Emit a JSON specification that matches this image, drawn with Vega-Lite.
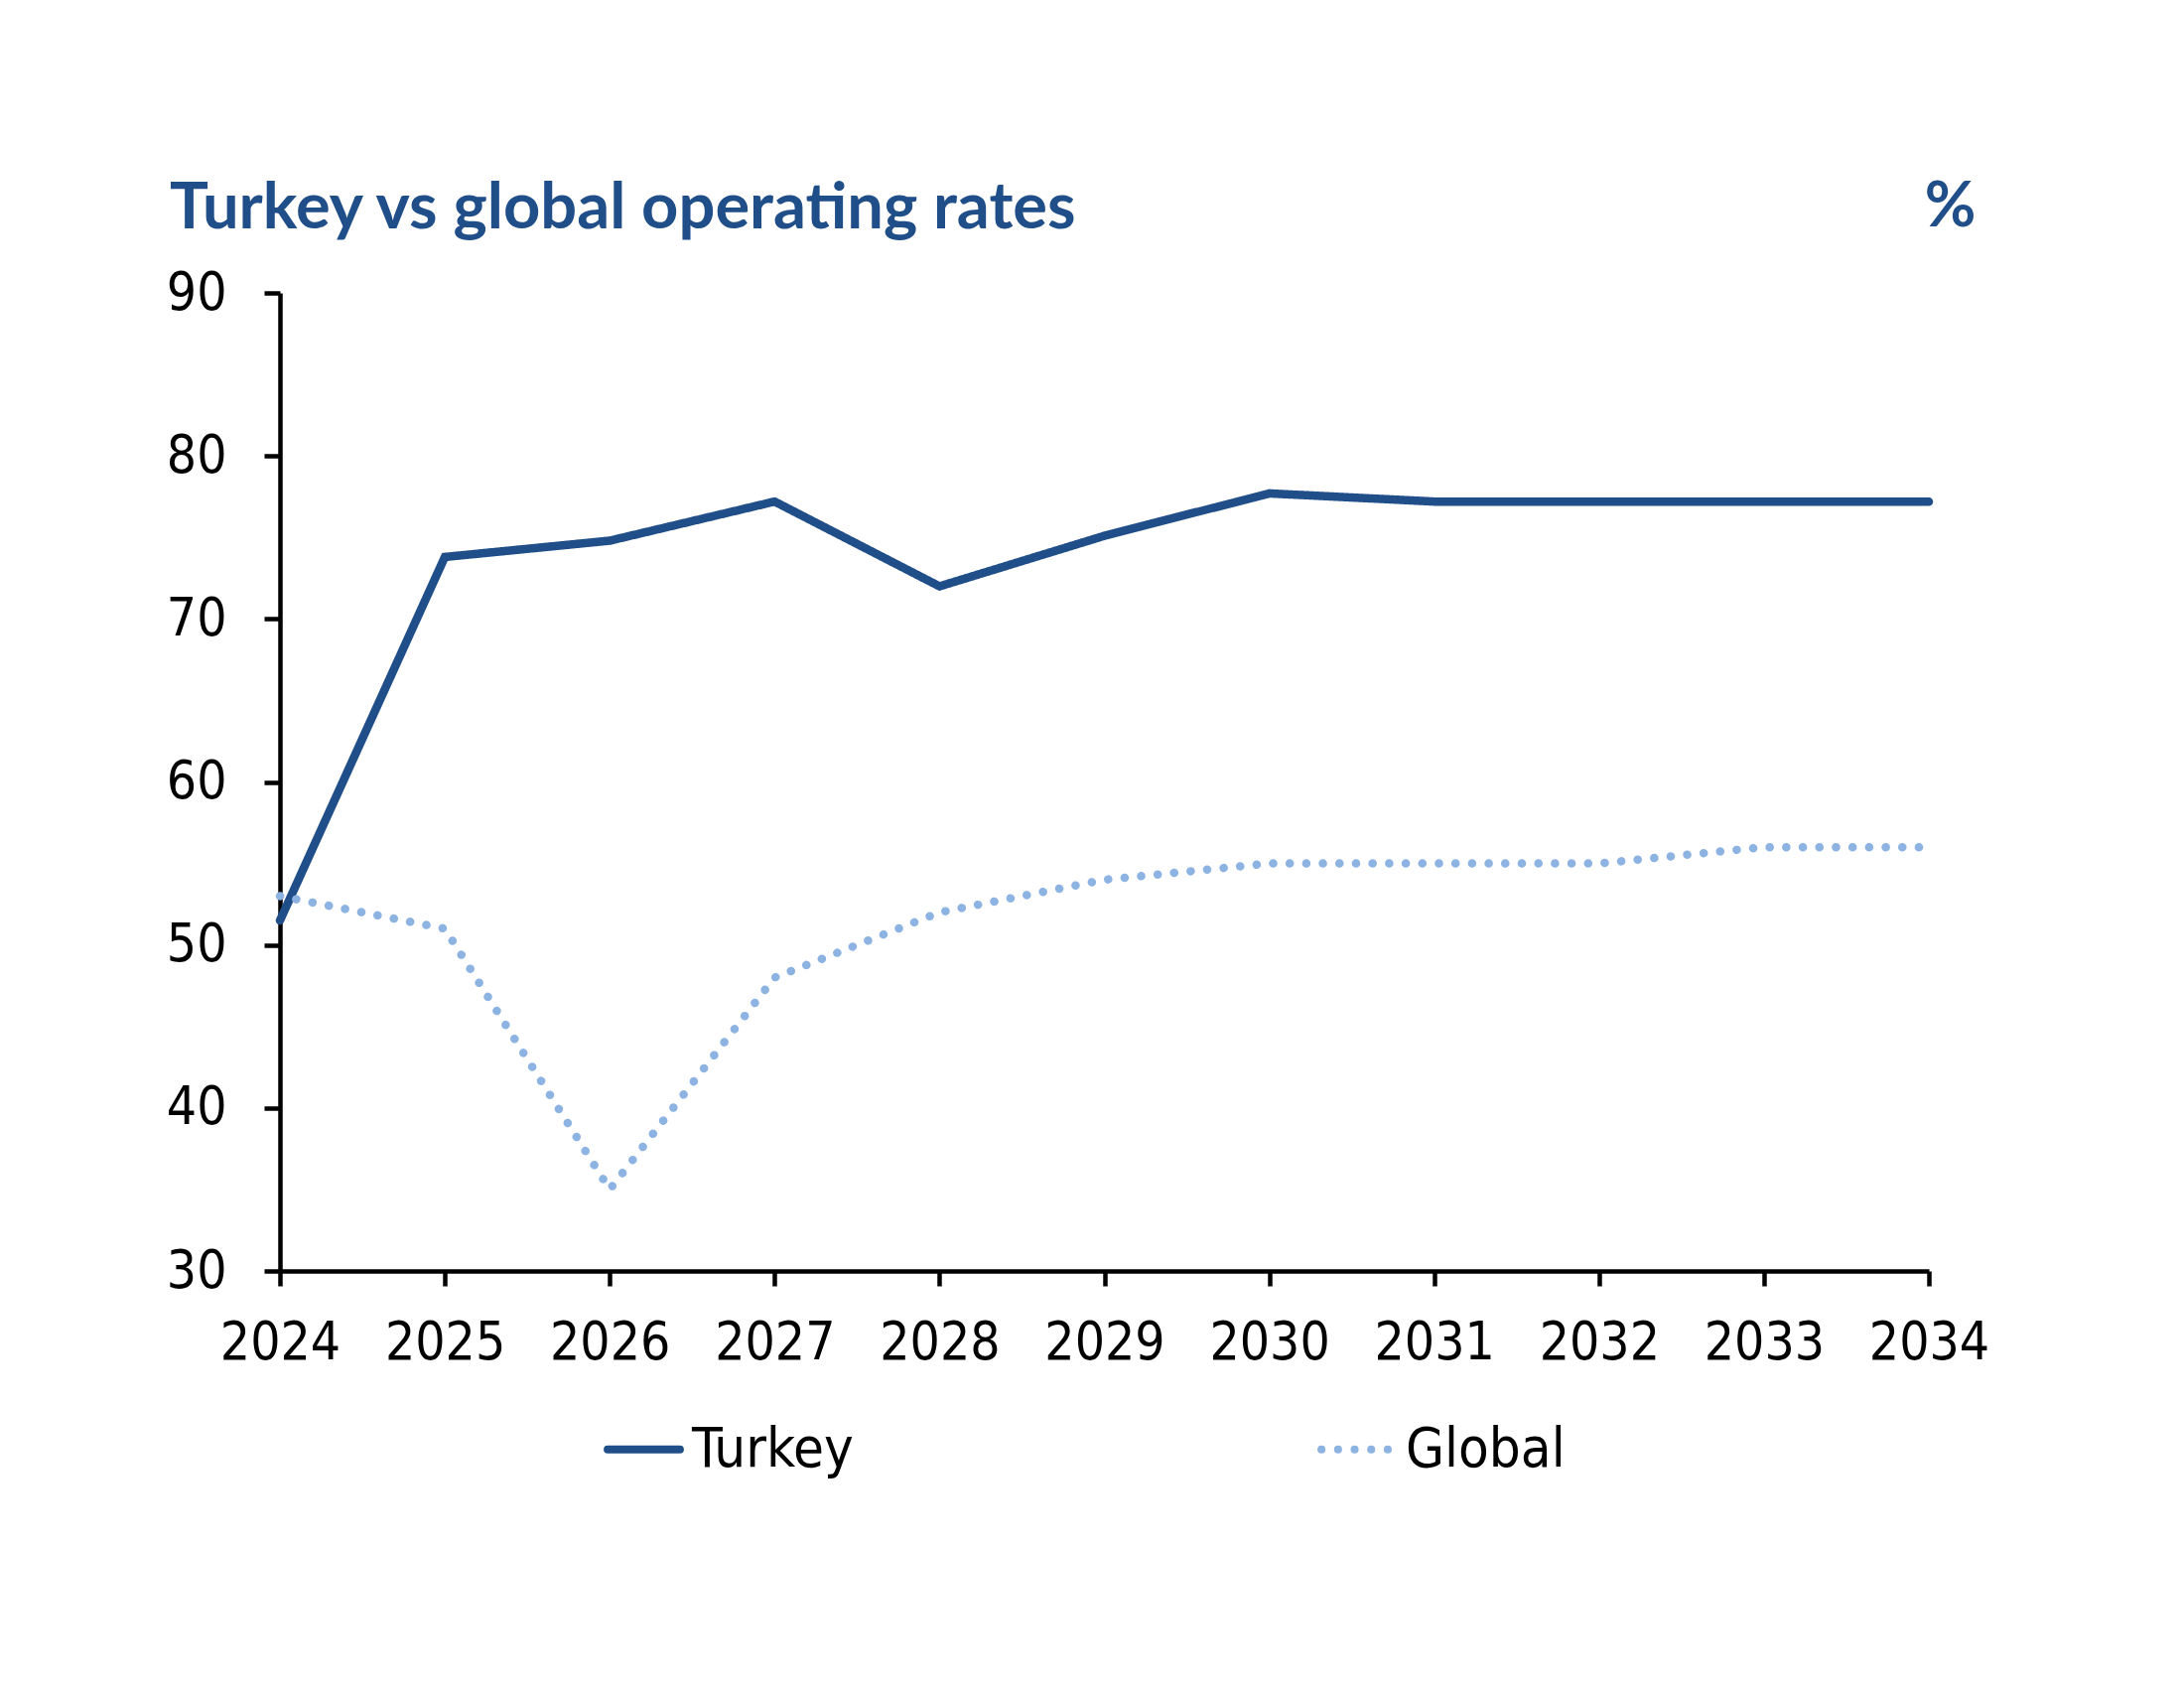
{
  "$schema": "https://vega.github.io/schema/vega-lite/v6.json",
  "width": 1661,
  "height": 985,
  "autosize": {"type": "none"},
  "padding": {"left": 282, "top": 295, "right": 257, "bottom": 420},
  "background": "white",
  "title": {
    "text": "Turkey vs global operating rates",
    "anchor": "start",
    "frame": "group",
    "font": "Lato",
    "fontWeight": "bold",
    "fontSize": 65,
    "color": "#1F4E89",
    "baseline": "alphabetic",
    "dx": -111,
    "dy": 156,
    "offset": 38
  },
  "data": {
    "values": [
      {"year": 2024, "series": "Turkey", "rate": 51.5},
      {"year": 2025, "series": "Turkey", "rate": 73.8},
      {"year": 2026, "series": "Turkey", "rate": 74.8},
      {"year": 2027, "series": "Turkey", "rate": 77.2},
      {"year": 2028, "series": "Turkey", "rate": 72.0},
      {"year": 2029, "series": "Turkey", "rate": 75.1},
      {"year": 2030, "series": "Turkey", "rate": 77.7},
      {"year": 2031, "series": "Turkey", "rate": 77.2},
      {"year": 2032, "series": "Turkey", "rate": 77.2},
      {"year": 2033, "series": "Turkey", "rate": 77.2},
      {"year": 2034, "series": "Turkey", "rate": 77.2},
      {"year": 2024, "series": "Global", "rate": 53},
      {"year": 2025, "series": "Global", "rate": 51},
      {"year": 2026, "series": "Global", "rate": 35},
      {"year": 2027, "series": "Global", "rate": 48},
      {"year": 2028, "series": "Global", "rate": 52},
      {"year": 2029, "series": "Global", "rate": 54},
      {"year": 2030, "series": "Global", "rate": 55},
      {"year": 2031, "series": "Global", "rate": 55},
      {"year": 2032, "series": "Global", "rate": 55},
      {"year": 2033, "series": "Global", "rate": 56},
      {"year": 2034, "series": "Global", "rate": 56}
    ]
  },
  "encoding": {
    "x": {
      "field": "year",
      "type": "quantitative",
      "scale": {"domain": [2024, 2034], "nice": false, "zero": false},
      "axis": {
        "values": [2024, 2025, 2026, 2027, 2028, 2029, 2030, 2031, 2032, 2033, 2034],
        "format": "d",
        "title": null,
        "grid": false,
        "domainColor": "black",
        "domainWidth": 4.5,
        "tickColor": "black",
        "tickWidth": 4.5,
        "tickSize": 15,
        "labelFont": "DejaVu Sans Condensed, Roboto",
        "labelFontSize": 53,
        "labelColor": "black",
        "labelPadding": 31,
        "labelFlush": false,
        "labelOverlap": false
      }
    }
  },
  "layer": [
    {
      "mark": {"type": "line", "strokeWidth": 8.5, "strokeCap": "round", "strokeJoin": "miter"},
      "encoding": {
        "y": {
          "field": "rate",
          "type": "quantitative",
          "scale": {"domain": [30, 90], "nice": false, "zero": false},
          "axis": {
            "values": [30, 40, 50, 60, 70, 80, 90],
            "title": null,
            "grid": false,
            "domainColor": "black",
            "domainWidth": 4.5,
            "tickColor": "black",
            "tickWidth": 4.5,
            "tickSize": 16,
            "labelFont": "DejaVu Sans Condensed, Roboto",
            "labelFontSize": 53,
            "labelColor": "black",
            "labelPadding": 38,
            "labelFlush": false,
            "labelOverlap": false
          }
        },
        "color": {
          "field": "series",
          "type": "nominal",
          "sort": ["Turkey", "Global"],
          "scale": {"domain": ["Turkey", "Global"], "range": ["#1F4E89", "#8DB3E2"]},
          "legend": {
            "title": null,
            "orient": "none",
            "direction": "horizontal",
            "legendX": 326,
            "legendY": 1124,
            "encode": {"symbols": {"update": {"strokeCap": {"value": "round"}}}}
          }
        },
        "strokeDash": {
          "field": "series",
          "type": "nominal",
          "sort": ["Turkey", "Global"],
          "scale": {"domain": ["Turkey", "Global"], "range": [[1, 0], [0.1, 16.6]]},
          "legend": {
            "title": null,
            "orient": "none",
            "direction": "horizontal",
            "legendX": 326,
            "legendY": 1124,
            "encode": {"symbols": {"update": {"strokeCap": {"value": "round"}}}}
          }
        }
      }
    },
    {
      "mark": {"type": "line", "strokeOpacity": 0},
      "encoding": {
        "y": {
          "field": "rate",
          "type": "quantitative",
          "axis": {
            "orient": "right",
            "domain": false,
            "ticks": false,
            "labels": false,
            "grid": false,
            "title": "%",
            "titleAngle": 0,
            "titleAlign": "right",
            "titleBaseline": "alphabetic",
            "titleX": 47,
            "titleY": -68,
            "titleFont": "Lato",
            "titleFontWeight": "bold",
            "titleFontSize": 63,
            "titleColor": "#1F4E89"
          }
        },
        "detail": {"field": "series", "type": "nominal"}
      }
    }
  ],
  "resolve": {"axis": {"y": "independent"}},
  "config": {
    "view": {"stroke": null},
    "legend": {
      "symbolType": "stroke",
      "symbolSize": 5300,
      "symbolStrokeWidth": 8,
      "labelFont": "DejaVu Sans Condensed, Roboto",
      "labelFontSize": 56,
      "labelColor": "black",
      "labelOffset": 8,
      "labelLimit": 0,
      "columnPadding": 455,
      "padding": 0
    }
  }
}
